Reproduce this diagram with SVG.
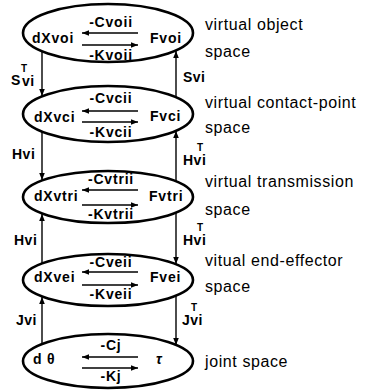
<svg xmlns="http://www.w3.org/2000/svg" width="379" height="390" viewBox="0 0 379 390">
<defs>
<marker id="ah" viewBox="0 0 10 10" refX="10" refY="5" markerWidth="8" markerHeight="7" orient="auto-start-reverse" markerUnits="userSpaceOnUse">
<path d="M0,1 L10,5 L0,9 Z" fill="#000"/>
</marker>
<style>
.el{fill:#fff;stroke:#000;stroke-width:2.6}
.ln{stroke:#000;stroke-width:1.4;fill:none}
.t{font-family:"Liberation Sans",Arial,sans-serif;font-size:14px;font-weight:bold;letter-spacing:0.8px;fill:#000}
.c{font-family:"Liberation Sans",Arial,sans-serif;font-size:14px;font-weight:bold;letter-spacing:0.5px;fill:#000}
.s{font-family:"Liberation Sans",Arial,sans-serif;font-size:16px;letter-spacing:0.6px;fill:#000}
.sup{font-family:"Liberation Sans",Arial,sans-serif;font-size:10px;font-weight:bold;fill:#000}
</style>
</defs>
<rect width="379" height="390" fill="#fff"/>
<g id="n1">
<ellipse class="el" cx="108" cy="33" rx="85" ry="29"/>
<text class="t" x="111" y="27" text-anchor="middle">-Cvoii</text>
<line class="ln" x1="138" y1="33" x2="82" y2="33" marker-end="url(#ah)"/>
<line class="ln" x1="82" y1="45" x2="138" y2="45" marker-end="url(#ah)"/>
<text class="t" x="111" y="60" text-anchor="middle">-Kvoii</text>
<text class="t" x="32" y="43">dXvoi</text>
<text class="t" x="150" y="43">Fvoi</text>
<text class="s" x="205" y="30">virtual object</text>
<text class="s" x="205" y="57">space</text>
</g>
<g id="n2">
<ellipse class="el" cx="108" cy="114" rx="85" ry="28"/>
<text class="t" x="111" y="103" text-anchor="middle">-Cvcii</text>
<line class="ln" x1="138" y1="111" x2="82" y2="111" marker-end="url(#ah)"/>
<line class="ln" x1="82" y1="122" x2="138" y2="122" marker-end="url(#ah)"/>
<text class="t" x="111" y="137" text-anchor="middle">-Kvcii</text>
<text class="t" x="34" y="122">dXvci</text>
<text class="t" x="150" y="121">Fvci</text>
<text class="s" x="205" y="108">virtual contact-point</text>
<text class="s" x="205" y="133">space</text>
</g>
<g id="n3">
<ellipse class="el" cx="108" cy="197" rx="85" ry="26"/>
<text class="t" x="111" y="184" text-anchor="middle">-Cvtrii</text>
<line class="ln" x1="138" y1="190" x2="82" y2="190" marker-end="url(#ah)"/>
<line class="ln" x1="82" y1="205" x2="138" y2="205" marker-end="url(#ah)"/>
<text class="t" x="111" y="219" text-anchor="middle">-Kvtrii</text>
<text class="t" x="34" y="201">dXvtri</text>
<text class="t" x="149" y="201">Fvtri</text>
<text class="s" x="205" y="187">virtual transmission</text>
<text class="s" x="205" y="215">space</text>
</g>
<g id="n4">
<ellipse class="el" cx="108" cy="280" rx="85" ry="26"/>
<text class="t" x="111" y="267" text-anchor="middle">-Cveii</text>
<line class="ln" x1="138" y1="272" x2="82" y2="272" marker-end="url(#ah)"/>
<line class="ln" x1="82" y1="285" x2="138" y2="285" marker-end="url(#ah)"/>
<text class="t" x="111" y="299" text-anchor="middle">-Kveii</text>
<text class="t" x="34" y="282">dXvei</text>
<text class="t" x="150" y="282">Fvei</text>
<text class="s" x="205" y="266">vitual end-effector</text>
<text class="s" x="205" y="292">space</text>
</g>
<g id="n5">
<ellipse class="el" cx="108" cy="361" rx="85" ry="27"/>
<text class="t" x="111" y="350" text-anchor="middle">-Cj</text>
<line class="ln" x1="138" y1="357" x2="82" y2="357" marker-end="url(#ah)"/>
<line class="ln" x1="82" y1="368" x2="138" y2="368" marker-end="url(#ah)"/>
<text class="t" x="111" y="381" text-anchor="middle">-Kj</text>
<text class="t" x="33" y="364">d θ</text>
<text class="t" x="156" y="364" font-style="italic">τ</text>
<text class="s" x="205" y="367">joint space</text>
</g>
<g id="connectors">
<line class="ln" x1="42" y1="52" x2="42" y2="96" marker-end="url(#ah)"/>
<line class="ln" x1="176" y1="97" x2="176" y2="51" marker-end="url(#ah)"/>
<line class="ln" x1="42" y1="132" x2="42" y2="180" marker-end="url(#ah)"/>
<line class="ln" x1="176" y1="181" x2="176" y2="131" marker-end="url(#ah)"/>
<line class="ln" x1="42" y1="263" x2="42" y2="214" marker-end="url(#ah)"/>
<line class="ln" x1="176" y1="213" x2="176" y2="264" marker-end="url(#ah)"/>
<line class="ln" x1="42" y1="344" x2="42" y2="297" marker-end="url(#ah)"/>
<line class="ln" x1="176" y1="296" x2="176" y2="345" marker-end="url(#ah)"/>
<text class="c" x="11" y="85" font-size="16">S</text><text class="c" x="22" y="86">vi</text><text class="sup" x="21" y="72">T</text>
<text class="c" x="183" y="82">Svi</text>
<text class="c" x="12" y="159">Hvi</text>
<text class="c" x="183" y="165">Hvi</text><text class="sup" x="197" y="151">T</text>
<text class="c" x="14" y="245">Hvi</text>
<text class="c" x="183" y="245">Hvi</text><text class="sup" x="197" y="231">T</text>
<text class="c" x="16" y="325">Jvi</text>
<text class="c" x="182" y="325">Jvi</text><text class="sup" x="191" y="311">T</text>
</g>
</svg>
